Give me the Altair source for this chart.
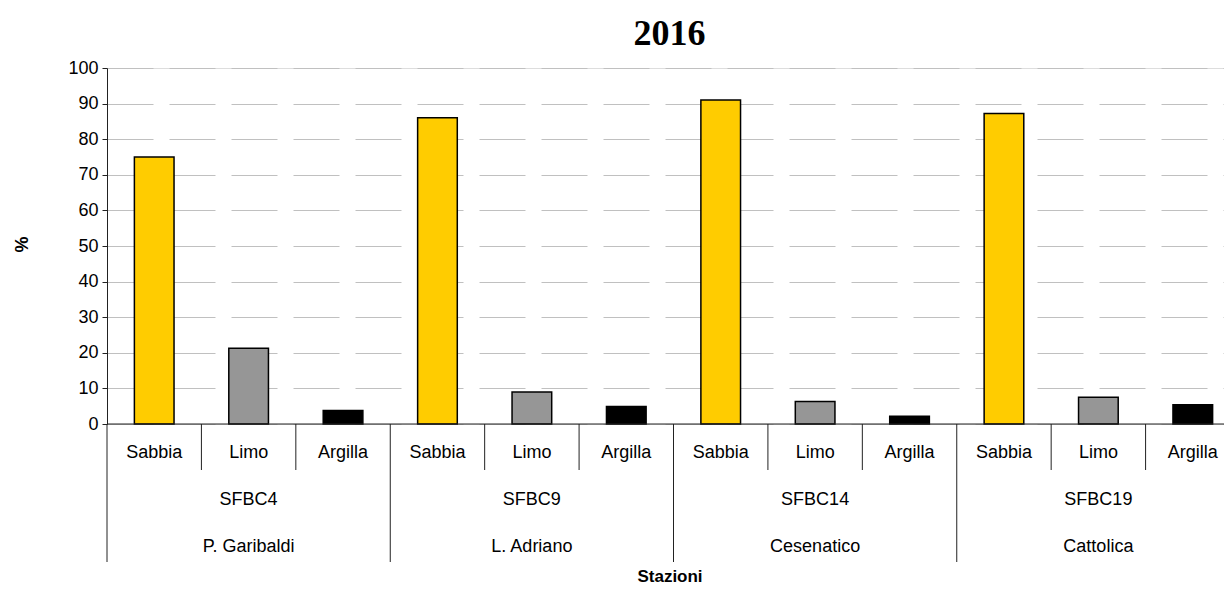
import altair as alt
import pandas as pd

stations = ["SFBC4", "SFBC9", "SFBC14", "SFBC19"]
places = ["P. Garibaldi", "L. Adriano", "Cesenatico", "Cattolica"]
fractions = ["Sabbia", "Limo", "Argilla"]
sabbia = [75.0, 86.0, 91.0, 87.2]
limo = [21.3, 9.0, 6.3, 7.5]
argilla = [3.8, 4.9, 2.2, 5.4]
colors = ["#FFCC00", "#969696", "#000000"]
y_ticks = list(range(0, 101, 10))

W, H = 1117, 356
FONT = "Liberation Sans"

rows = []
for g in range(len(stations)):
    for k, (f, vals) in enumerate(zip(fractions, [sabbia, limo, argilla])):
        rows.append({"idx": g * 3 + k, "frazione": f, "valore": vals[g],
                     "stazione": stations[g], "luogo": places[g]})
df = pd.DataFrame(rows)

groups = pd.DataFrame({"g": list(range(len(stations))), "stazione": stations, "luogo": places})
n = len(df)
minor = pd.DataFrame({"pos": [i for i in range(1, n) if i % 3 != 0]})
major = pd.DataFrame({"pos": [i for i in range(0, n + 1) if i % 3 == 0]})
baseline = pd.DataFrame({"a": [0], "b": [n]})

xscale = alt.Scale(domain=[0, n], range=[0, 1133], nice=False, zero=False)
yscale = alt.Scale(domain=[0, 100], nice=False)

bars = alt.Chart(df).transform_calculate(
    x0="datum.idx + 0.29", x1="datum.idx + 0.71"
).mark_bar(stroke="black", strokeWidth=1.5).encode(
    x=alt.X("x0:Q", scale=xscale,
            axis=alt.Axis(labels=False, ticks=False, grid=False, title=None, domain=False)),
    x2="x1:Q",
    y=alt.Y("valore:Q", scale=yscale,
            axis=alt.Axis(values=y_ticks, grid=True, gridColor="#c0c0c0", gridWidth=1,
                          gridDash=[46, 16], domainColor="#222222", tickColor="#222222",
                          tickSize=5, labelFont=FONT, labelFontSize=18, labelColor="black",
                          labelPadding=4, title="%", titleFont=FONT, titleFontSize=18,
                          titleFontWeight="bold", titleColor="black", titleAngle=270,
                          titleX=-85, titleY=H / 2 - 2, titleBaseline="middle", titleAlign="center")),
    y2=alt.datum(0),
    color=alt.Color("frazione:N", scale=alt.Scale(domain=fractions, range=colors), legend=None),
)

base_rule = alt.Chart(baseline).mark_rule(color="#222222", strokeWidth=1).encode(
    x=alt.X("a:Q", scale=xscale), x2="b:Q", y=alt.value(H)
)
minor_rules = alt.Chart(minor).mark_rule(color="#222222", strokeWidth=1).encode(
    x=alt.X("pos:Q", scale=xscale), y=alt.value(H), y2=alt.value(H + 46)
)
major_rules = alt.Chart(major).mark_rule(color="#222222", strokeWidth=1).encode(
    x=alt.X("pos:Q", scale=xscale), y=alt.value(H), y2=alt.value(H + 138)
)

lab1 = alt.Chart(df).transform_calculate(xc="datum.idx + 0.5").mark_text(
    font=FONT, fontSize=18, color="black", baseline="middle"
).encode(x=alt.X("xc:Q", scale=xscale), y=alt.value(H + 29), text="frazione:N")

lab2 = alt.Chart(groups).transform_calculate(xc="datum.g * 3 + 1.5").mark_text(
    font=FONT, fontSize=18, color="black", baseline="middle"
).encode(x=alt.X("xc:Q", scale=xscale), y=alt.value(H + 76), text="stazione:N")

lab3 = alt.Chart(groups).transform_calculate(xc="datum.g * 3 + 1.5").mark_text(
    font=FONT, fontSize=18, color="black", baseline="middle"
).encode(x=alt.X("xc:Q", scale=xscale), y=alt.value(H + 123), text="luogo:N")

xtitle = alt.Chart(pd.DataFrame({"t": ["Stazioni"]})).mark_text(
    font=FONT, fontSize=17, fontWeight="bold", color="black", baseline="middle"
).encode(x=alt.value(563), y=alt.value(H + 153), text="t:N")

chart = alt.layer(bars, base_rule, minor_rules, major_rules, lab1, lab2, lab3, xtitle).properties(
    width=W, height=H,
    title=alt.TitleParams("2016", font="Liberation Serif", fontSize=36, fontWeight="bold",
                          color="black", anchor="middle", dx=4, offset=6),
    autosize=alt.AutoSizeParams(type="none"),
    padding={"left": 99, "top": 60, "right": 0, "bottom": 165},
).configure_view(stroke=None).configure(background="white")

chart.save("out.html", embed_options={"renderer": "svg", "actions": False})
